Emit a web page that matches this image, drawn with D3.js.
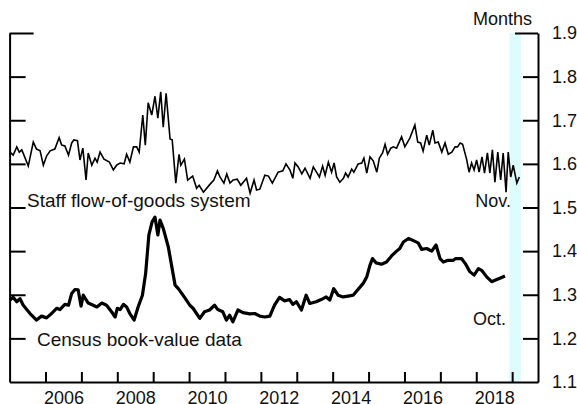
<!DOCTYPE html>
<html>
<head>
<meta charset="utf-8">
<script src="https://cdn.jsdelivr.net/npm/d3@7"></script>
<style>
  body { margin: 0; background: #fff; }
  svg { display: block; font-family: "Liberation Sans", Arial, sans-serif; }
</style>
</head>
<body>
<script>
// data (dates as decimal years, values in months)
var staffDates = [2005.01, 2005.10, 2005.20, 2005.27, 2005.34, 2005.40, 2005.52, 2005.66, 2005.75, 2005.85,
  2005.94, 2006.03, 2006.13, 2006.26, 2006.38, 2006.45, 2006.54, 2006.64, 2006.73, 2006.79,
  2006.89, 2006.96, 2007.04, 2007.13, 2007.19, 2007.29, 2007.38, 2007.44, 2007.52, 2007.63,
  2007.78, 2007.89, 2007.98, 2008.08, 2008.19, 2008.26, 2008.35, 2008.45, 2008.54, 2008.61,
  2008.71, 2008.78, 2008.86, 2008.96, 2009.05, 2009.13, 2009.21, 2009.28, 2009.36, 2009.47,
  2009.53, 2009.63, 2009.72, 2009.77, 2009.87, 2009.96, 2010.10, 2010.21, 2010.28, 2010.40,
  2010.58, 2010.69, 2010.79, 2010.86, 2010.97, 2011.05, 2011.14, 2011.23, 2011.34, 2011.44,
  2011.60, 2011.70, 2011.81, 2011.88, 2011.97, 2012.11, 2012.21, 2012.32, 2012.48, 2012.61,
  2012.70, 2012.81, 2012.89, 2012.95, 2013.04, 2013.14, 2013.23, 2013.37, 2013.46, 2013.55,
  2013.63, 2013.72, 2013.79, 2013.88, 2013.97, 2014.04, 2014.11, 2014.20, 2014.30, 2014.36,
  2014.43, 2014.53, 2014.59, 2014.71, 2014.81, 2014.87, 2014.95, 2015.04, 2015.13, 2015.23,
  2015.30, 2015.39, 2015.46, 2015.53, 2015.62, 2015.69, 2015.78, 2015.92, 2016.01, 2016.15,
  2016.29, 2016.37, 2016.45, 2016.52, 2016.62, 2016.69, 2016.79, 2016.85, 2016.94, 2017.04,
  2017.13, 2017.22, 2017.32, 2017.41, 2017.48, 2017.55, 2017.62, 2017.73, 2017.80, 2017.87,
  2017.94, 2018.01, 2018.08, 2018.16, 2018.23, 2018.31, 2018.38, 2018.45, 2018.52, 2018.60,
  2018.68, 2018.75, 2018.83, 2018.89, 2018.96, 2019.03, 2019.13, 2019.20];
var staffValues = [1.627, 1.620, 1.639, 1.627, 1.632, 1.620, 1.595, 1.650, 1.634, 1.630,
  1.597, 1.618, 1.630, 1.634, 1.660, 1.643, 1.641, 1.620, 1.648, 1.655,
  1.653, 1.609, 1.636, 1.563, 1.625, 1.597, 1.613, 1.604, 1.627, 1.611,
  1.604, 1.586, 1.597, 1.602, 1.600, 1.622, 1.604, 1.639, 1.639, 1.627,
  1.712, 1.643, 1.740, 1.712, 1.755, 1.705, 1.765, 1.684, 1.762, 1.657,
  1.655, 1.556, 1.622, 1.597, 1.611, 1.563, 1.572, 1.544, 1.551, 1.535,
  1.553, 1.563, 1.584, 1.570, 1.556, 1.577, 1.556, 1.563, 1.565, 1.551,
  1.567, 1.533, 1.563, 1.540, 1.542, 1.574, 1.572, 1.556, 1.581, 1.584,
  1.600, 1.586, 1.567, 1.602, 1.593, 1.577, 1.590, 1.567, 1.593, 1.581,
  1.570, 1.595, 1.574, 1.604, 1.581, 1.602, 1.570, 1.558, 1.567, 1.579,
  1.570, 1.588, 1.581, 1.600, 1.602, 1.613, 1.579, 1.616, 1.607, 1.581,
  1.613, 1.625, 1.645, 1.622, 1.636, 1.639, 1.636, 1.662, 1.639, 1.659,
  1.689, 1.650, 1.648, 1.629, 1.666, 1.643, 1.677, 1.648, 1.650, 1.627,
  1.648, 1.622, 1.627, 1.639, 1.639, 1.648, 1.645, 1.611, 1.581, 1.602,
  1.586, 1.609, 1.581, 1.616, 1.579, 1.625, 1.579, 1.632, 1.558, 1.627,
  1.563, 1.625, 1.535, 1.627, 1.570, 1.597, 1.556, 1.570];

var censusDates = [2005.01, 2005.10, 2005.20, 2005.29, 2005.38, 2005.57, 2005.75, 2005.89, 2006.03, 2006.17,
  2006.31, 2006.40, 2006.54, 2006.64, 2006.73, 2006.82, 2006.91, 2006.99, 2007.05, 2007.19,
  2007.33, 2007.43, 2007.57, 2007.70, 2007.84, 2007.94, 2008.00, 2008.08, 2008.17, 2008.26,
  2008.35, 2008.47, 2008.58, 2008.70, 2008.79, 2008.88, 2008.97, 2009.05, 2009.13, 2009.19,
  2009.28, 2009.42, 2009.61, 2009.70, 2009.83, 2010.02, 2010.11, 2010.30, 2010.43, 2010.57,
  2010.71, 2010.80, 2010.94, 2011.04, 2011.13, 2011.22, 2011.36, 2011.50, 2011.69, 2011.83,
  2011.97, 2012.11, 2012.25, 2012.38, 2012.52, 2012.66, 2012.80, 2012.89, 2012.99, 2013.13,
  2013.26, 2013.36, 2013.54, 2013.68, 2013.82, 2013.92, 2014.03, 2014.15, 2014.29, 2014.43,
  2014.57, 2014.85, 2014.95, 2015.04, 2015.11, 2015.21, 2015.36, 2015.50, 2015.64, 2015.78,
  2015.87, 2015.97, 2016.11, 2016.25, 2016.38, 2016.48, 2016.62, 2016.76, 2016.88, 2016.99,
  2017.08, 2017.22, 2017.36, 2017.43, 2017.59, 2017.69, 2017.82, 2017.94, 2018.06, 2018.15,
  2018.29, 2018.43, 2018.57, 2018.66, 2018.80];
var censusValues = [1.288, 1.294, 1.284, 1.291, 1.276, 1.257, 1.242, 1.251, 1.247, 1.257,
  1.269, 1.266, 1.278, 1.276, 1.303, 1.312, 1.311, 1.274, 1.299, 1.281,
  1.276, 1.272, 1.281, 1.276, 1.261, 1.249, 1.269, 1.266, 1.278, 1.272,
  1.257, 1.242, 1.272, 1.299, 1.349, 1.437, 1.467, 1.478, 1.437, 1.471,
  1.452, 1.410, 1.322, 1.314, 1.299, 1.276, 1.269, 1.246, 1.261, 1.265,
  1.276, 1.266, 1.261, 1.242, 1.253, 1.238, 1.265, 1.259, 1.256, 1.257,
  1.251, 1.249, 1.251, 1.276, 1.294, 1.286, 1.289, 1.278, 1.284, 1.265,
  1.299, 1.280, 1.284, 1.289, 1.295, 1.288, 1.314, 1.299, 1.295, 1.297,
  1.299, 1.326, 1.341, 1.368, 1.383, 1.373, 1.370, 1.375, 1.389, 1.400,
  1.406, 1.421, 1.429, 1.424, 1.419, 1.404, 1.406, 1.400, 1.414, 1.383,
  1.375, 1.379, 1.379, 1.383, 1.383, 1.372, 1.353, 1.345, 1.360, 1.356,
  1.341, 1.330, 1.335, 1.338, 1.343];

var yearTicks = [2006, 2007, 2008, 2009, 2010, 2011, 2012, 2013, 2014, 2015, 2016, 2017, 2018, 2019];
var yearLabels = [2006, 2008, 2010, 2012, 2014, 2016, 2018];
var valueTicks = [1.1, 1.2, 1.3, 1.4, 1.5, 1.6, 1.7, 1.8, 1.9];
var shadeBand = [2018.92, 2019.24];

var width = 577, height = 404;
var plotLeft = 9.6, plotRight = 538, plotTop = 33, plotBottom = 382;

var svg = d3.select("body").append("svg")
  .attr("width", width)
  .attr("height", height);

var x = d3.scaleLinear().domain([2005, 2019.72]).range([plotLeft, plotRight]);
var y = d3.scaleLinear().domain([1.1, 1.9]).range([plotBottom, plotTop]);

// shaded period
svg.append("rect")
  .attr("x", x(shadeBand[0]))
  .attr("y", plotTop)
  .attr("width", x(shadeBand[1]) - x(shadeBand[0]))
  .attr("height", plotBottom - plotTop)
  .attr("fill", "#dcfcfd");

// axes
function styleAxis(g) {
  g.selectAll("path.domain").attr("stroke", "#000").attr("stroke-width", 2);
  g.selectAll(".tick line").attr("stroke", "#000").attr("stroke-width", 2);
  g.selectAll(".tick text").attr("fill", "#111").style("font-size", "18px");
}

var rightAxis = svg.append("g")
  .attr("transform", "translate(" + plotRight + ",0)")
  .call(d3.axisRight(y).tickValues(valueTicks).tickSizeInner(-15).tickSizeOuter(0)
    .tickPadding(14).tickFormat(d3.format(".1f")))
  .call(styleAxis);
rightAxis.selectAll(".tick line").filter(function(d) { return d === 1.9; }).attr("x2", -23);
rightAxis.selectAll(".tick line").filter(function(d) { return d === 1.1; }).remove();

var leftAxis = svg.append("g")
  .attr("transform", "translate(" + plotLeft + ",0)")
  .call(d3.axisRight(y).tickValues(valueTicks.slice(1)).tickSizeInner(16).tickSizeOuter(0)
    .tickFormat(""))
  .call(styleAxis);
leftAxis.selectAll(".tick line").filter(function(d) { return d === 1.9; }).attr("x2", 24);

svg.append("g")
  .attr("transform", "translate(0," + plotBottom + ")")
  .call(d3.axisBottom(x).tickValues(yearTicks).tickSizeInner(-10).tickSizeOuter(0)
    .tickFormat(""))
  .call(styleAxis);

// year labels sit in the middle of each year
svg.append("g")
  .attr("transform", "translate(0," + plotBottom + ")")
  .call(d3.axisBottom(x).tickValues(yearLabels.map(function(d) { return d + 0.5; }))
    .tickSize(0).tickPadding(9).tickFormat(function(d) { return Math.floor(d); }))
  .call(styleAxis)
  .call(function(g) { g.select(".domain").remove(); });

// lines
var staff = staffDates.map(function(d, i) { return [d, staffValues[i]]; });
var census = censusDates.map(function(d, i) { return [d, censusValues[i]]; });

var line = d3.line()
  .x(function(d) { return x(d[0]); })
  .y(function(d) { return y(d[1]); });

svg.append("path")
  .datum(staff)
  .attr("d", line)
  .attr("fill", "none")
  .attr("stroke", "#000")
  .attr("stroke-width", 1.6);

svg.append("path")
  .datum(census)
  .attr("d", line)
  .attr("fill", "none")
  .attr("stroke", "#000")
  .attr("stroke-width", 3.2)
  .attr("stroke-linejoin", "round");

// text
var labels = [
  { text: "Months", x: 532, y: 25, anchor: "end", size: 18 },
  { text: "Staff flow-of-goods system", x: 27, y: 207, anchor: "start", size: 19 },
  { text: "Census book-value data", x: 37, y: 346, anchor: "start", size: 19 },
  { text: "Nov.", x: 511, y: 207, anchor: "end", size: 18 },
  { text: "Oct.", x: 506, y: 325, anchor: "end", size: 18 }
];

svg.selectAll("text.note")
  .data(labels)
  .enter()
  .append("text")
  .attr("class", "note")
  .attr("x", function(d) { return d.x; })
  .attr("y", function(d) { return d.y; })
  .attr("text-anchor", function(d) { return d.anchor; })
  .style("font-size", function(d) { return d.size + "px"; })
  .attr("fill", "#111")
  .text(function(d) { return d.text; });
</script>
</body>
</html>
